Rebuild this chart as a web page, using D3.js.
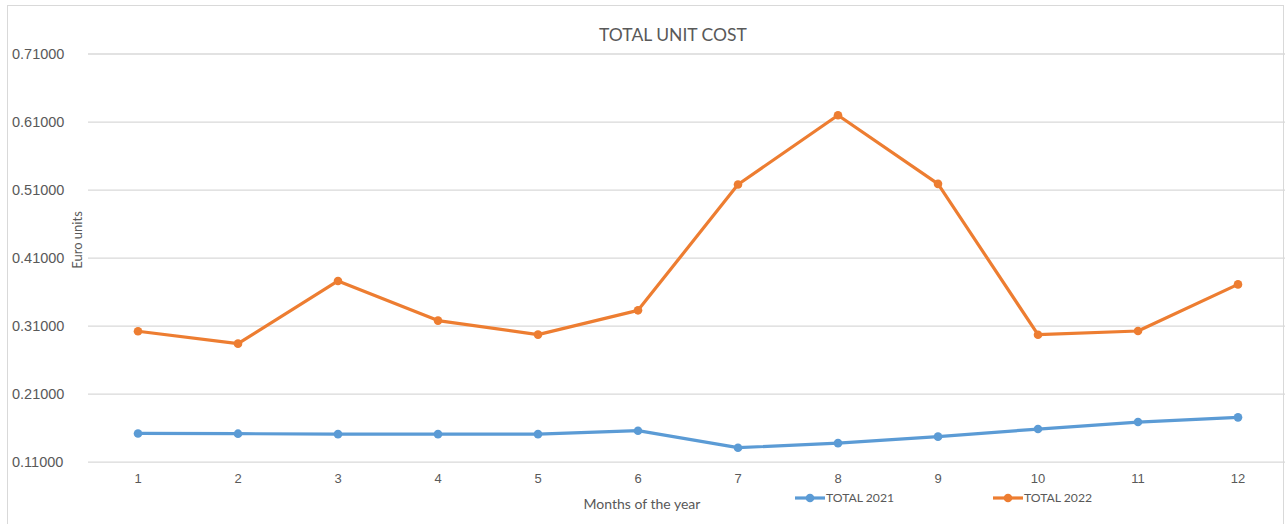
<!DOCTYPE html>
<html>
<head>
<meta charset="utf-8">
<script src="https://cdn.jsdelivr.net/npm/d3@7/dist/d3.min.js"></script>
<style>
  html, body { margin: 0; padding: 0; background: #fff; }
  svg { display: block; font-family: "Lato", "Open Sans", "Liberation Sans", sans-serif; }
</style>
</head>
<body>
<svg id="chart" width="1285" height="524"></svg>
<script>
// Monthly totals
const months = ["1", "2", "3", "4", "5", "6", "7", "8", "9", "10", "11", "12"];
const total2021 = [0.1515, 0.1512, 0.1505, 0.1505, 0.1505, 0.1556, 0.1306, 0.1373, 0.1468, 0.1580, 0.1683, 0.1752];
const total2022 = [0.3017, 0.2835, 0.3757, 0.3174, 0.2968, 0.3325, 0.5174, 0.6193, 0.5184, 0.2967, 0.3021, 0.3706];
const yTicks = [0.11, 0.21, 0.31, 0.41, 0.51, 0.61, 0.71];
const seriesNames = ["TOTAL 2021", "TOTAL 2022"];
const seriesColors = ["#5B9BD5", "#ED7D31"];

const svg = d3.select("#chart");
const plot = { left: 88, right: 1288, top: 53.5, bottom: 461.7 };

// chart frame
svg.append("rect")
  .attr("x", 7.5).attr("y", 5.5)
  .attr("width", 1276).attr("height", 530)
  .attr("fill", "#fff").attr("stroke", "#d9d9d9").attr("stroke-width", 1);

const x = d3.scaleBand().domain(months).range([plot.left, plot.right]);
const y = d3.scaleLinear().domain([0.11, 0.71]).range([plot.bottom, plot.top]);

// horizontal gridlines and y labels
const yAxis = d3.axisLeft(y)
  .tickValues(yTicks)
  .tickFormat(d3.format(".5f"))
  .tickSize(-(plot.right - plot.left))
  .tickPadding(22);
const gy = svg.append("g")
  .attr("transform", `translate(${plot.left},0)`)
  .call(yAxis);
gy.select(".domain").remove();
gy.selectAll(".tick line").attr("stroke", "#d9d9d9").attr("stroke-width", 1.3);
gy.selectAll(".tick text")
  .attr("fill", "#595959").attr("font-size", 14.5)
  .attr("x", -(plot.left - 12)).attr("text-anchor", "start");

// x axis labels
const xAxis = d3.axisBottom(x).tickSize(0).tickPadding(12);
const gx = svg.append("g")
  .attr("transform", `translate(0,${plot.bottom})`)
  .call(xAxis);
gx.select(".domain").remove();
gx.selectAll(".tick text").attr("fill", "#595959").attr("font-size", 13);

// series lines and markers
const cx = d => x(d) + x.bandwidth() / 2;
[total2021, total2022].forEach((vals, i) => {
  const pts = months.map((m, j) => [cx(m), y(vals[j])]);
  svg.append("path")
    .attr("d", d3.line()(pts))
    .attr("fill", "none")
    .attr("stroke", seriesColors[i])
    .attr("stroke-width", 3.2)
    .attr("stroke-linejoin", "round");
  svg.append("g").selectAll("circle")
    .data(pts).join("circle")
    .attr("cx", d => d[0]).attr("cy", d => d[1])
    .attr("r", 4.3)
    .attr("fill", seriesColors[i]);
});

// title
svg.append("text")
  .attr("x", 673).attr("y", 41)
  .attr("text-anchor", "middle")
  .attr("fill", "#595959").attr("font-size", 17.5)
  .text("TOTAL UNIT COST");

// axis titles
svg.append("text")
  .attr("x", 642).attr("y", 509)
  .attr("text-anchor", "middle")
  .attr("fill", "#595959").attr("font-size", 14)
  .text("Months of the year");
svg.append("text")
  .attr("transform", "translate(82,240) rotate(-90)")
  .attr("text-anchor", "middle")
  .attr("fill", "#595959").attr("font-size", 13)
  .text("Euro units");

// legend
const legendX = [795, 993];
seriesNames.forEach((name, i) => {
  const g = svg.append("g").attr("transform", `translate(${legendX[i]},498)`);
  g.append("line").attr("x1", 0).attr("x2", 30).attr("y1", 0).attr("y2", 0)
    .attr("stroke", seriesColors[i]).attr("stroke-width", 3.2);
  g.append("circle").attr("cx", 15).attr("cy", 0).attr("r", 4.3).attr("fill", seriesColors[i]);
  g.append("text").attr("x", 31).attr("y", 4.2)
    .attr("fill", "#595959").attr("font-size", 12.2)
    .text(name);
});
</script>
</body>
</html>
